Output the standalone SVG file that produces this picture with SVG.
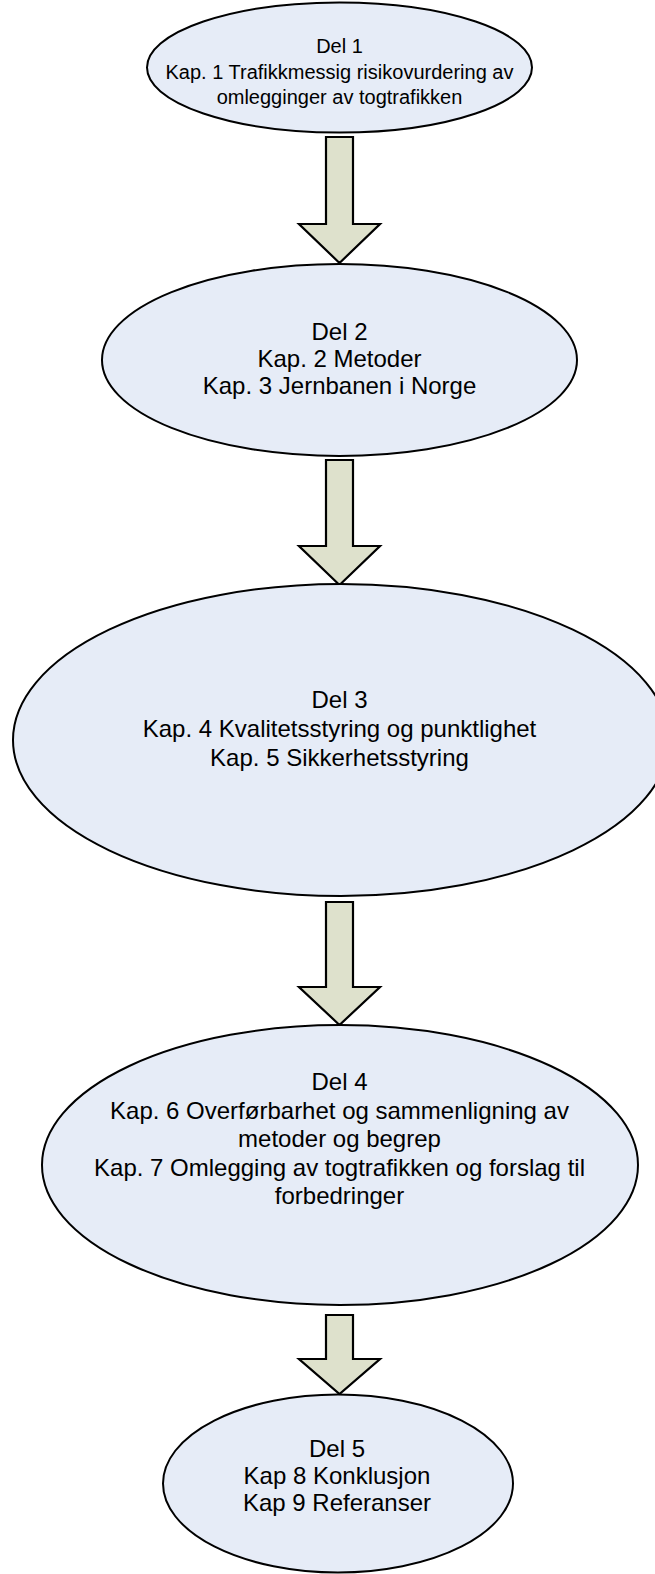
<svg xmlns="http://www.w3.org/2000/svg" width="655" height="1574" viewBox="0 0 655 1574">
  <style>
    .part { fill: #E6ECF7; stroke: #000000; stroke-width: 2; }
    .flow { fill: #DEE1CC; stroke: #000000; stroke-width: 2.2; stroke-linejoin: miter; }
    text { font-family: "Liberation Sans", Arial, sans-serif; fill: #000000; text-anchor: middle; }
    .big { font-size: 24px; }
    .small { font-size: 20px; }
  </style>
  <rect width="655" height="1574" fill="#FFFFFF"/>

  <!-- Block arrows between the parts -->
  <g id="connectors">
    <polygon class="flow" points="326,137 353,137 353,224 380,224 339.5,263 299,224 326,224"/>
    <polygon class="flow" points="326,460 353,460 353,546 380,546 339.5,585 299,546 326,546"/>
    <polygon class="flow" points="326,902 353,902 353,987 380,987 339.5,1025 299,987 326,987"/>
    <polygon class="flow" points="326,1315 353,1315 353,1359 380,1359 339.5,1394 299,1359 326,1359"/>
  </g>

  <g id="del1">
    <ellipse class="part" cx="339.5" cy="67.5" rx="192.5" ry="65"/>
    <text class="small" x="339.5" y="53">Del 1</text>
    <text class="small" x="339.5" y="79">Kap. 1 Trafikkmessig risikovurdering av</text>
    <text class="small" x="339.5" y="104">omlegginger av togtrafikken</text>
  </g>

  <g id="del2">
    <ellipse class="part" cx="339.5" cy="360" rx="237.5" ry="96"/>
    <text class="big" x="339.5" y="340">Del 2</text>
    <text class="big" x="339.5" y="367">Kap. 2 Metoder</text>
    <text class="big" x="339.5" y="394">Kap. 3 Jernbanen i Norge</text>
  </g>

  <g id="del3">
    <ellipse class="part" cx="341" cy="740" rx="328" ry="156"/>
    <text class="big" x="339.5" y="708">Del 3</text>
    <text class="big" x="339.5" y="737">Kap. 4 Kvalitetsstyring og punktlighet</text>
    <text class="big" x="339.5" y="766">Kap. 5 Sikkerhetsstyring</text>
  </g>

  <g id="del4">
    <ellipse class="part" cx="340" cy="1165" rx="298" ry="140"/>
    <text class="big" x="339.5" y="1090">Del 4</text>
    <text class="big" x="339.5" y="1118.5">Kap. 6 Overførbarhet og sammenligning av</text>
    <text class="big" x="339.5" y="1147">metoder og begrep</text>
    <text class="big" x="339.5" y="1175.5">Kap. 7 Omlegging av togtrafikken og forslag til</text>
    <text class="big" x="339.5" y="1204">forbedringer</text>
  </g>

  <g id="del5">
    <ellipse class="part" cx="338" cy="1483.5" rx="175" ry="89"/>
    <text class="big" x="337" y="1457">Del 5</text>
    <text class="big" x="337" y="1484">Kap 8 Konklusjon</text>
    <text class="big" x="337" y="1511">Kap 9 Referanser</text>
  </g>
</svg>
